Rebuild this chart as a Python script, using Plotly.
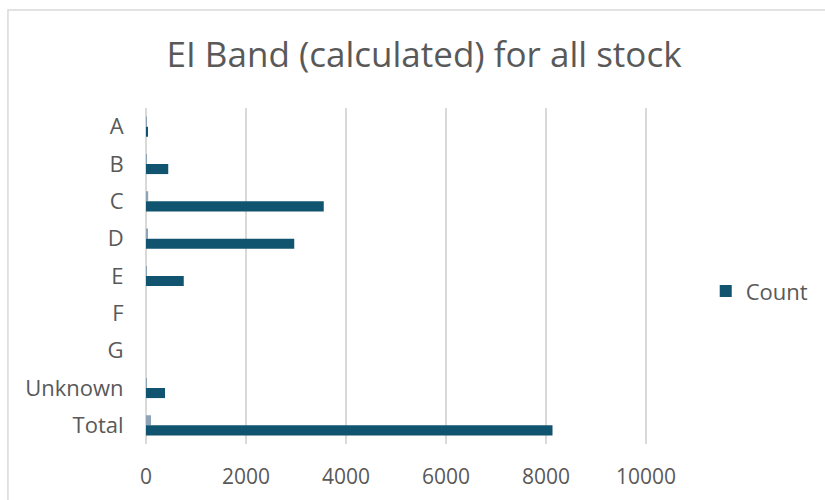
import plotly.graph_objects as go

categories = ["A", "B", "C", "D", "E", "F", "G", "Unknown", "Total"]
count_values = [30, 445, 3555, 2965, 755, 0, 0, 380, 8130]
percent_values = [0.4, 5.5, 43.7, 36.5, 9.3, 0, 0, 4.7, 100]
x_ticks = [0, 2000, 4000, 6000, 8000, 10000]
x_tick_text = ["0", "2000", "4000", "6000", "8000", "10000"]

fig = go.Figure()
fig.add_trace(go.Bar(
    y=categories, x=percent_values, orientation="h", name="Percent",
    marker=dict(color="#8fa3b6", line=dict(width=0)), showlegend=False,
))
fig.add_trace(go.Bar(
    y=categories, x=count_values, orientation="h", name="Count",
    marker=dict(color="#10546f", line=dict(width=0)),
))

grey = "#595959"
fnt = "Open Sans, Liberation Sans, Arial"
fig.update_layout(
    width=825, height=500,
    margin=dict(l=146, r=177, t=108, b=56, autoexpand=False),
    paper_bgcolor="white", plot_bgcolor="white",
    barmode="group", bargap=0.46, bargroupgap=0,
    title=dict(text="EI Band (calculated) for all stock", x=0.514, xanchor="center",
               y=0.89, yanchor="middle",
               font=dict(family=fnt, size=35, color=grey)),
    font=dict(family=fnt, size=21, color=grey),
    legend=dict(x=1.115, y=0.455, xanchor="left", yanchor="middle",
                font=dict(size=22, color=grey), itemwidth=30, bgcolor="rgba(0,0,0,0)"),
    xaxis=dict(range=[0, 10040], tickvals=x_ticks, ticktext=x_tick_text, automargin=False,
               showgrid=True, gridcolor="#d9d9d9", gridwidth=1.5,
               zeroline=True, zerolinecolor="#d9d9d9", zerolinewidth=1.5,
               showline=False, ticks="outside",
               ticklen=14, tickcolor="rgba(0,0,0,0)", tickfont=dict(size=21, color=grey)),
    yaxis=dict(autorange="reversed", showgrid=False, zeroline=False, showline=False,
               automargin=False,
               ticks="outside", ticklen=17, tickcolor="rgba(0,0,0,0)",
               tickfont=dict(size=22, color=grey)),
    shapes=[dict(type="rect", xref="paper", yref="paper",
                 x0=-0.275, x1=1.4, y0=-0.2, y1=1.2917,
                 line=dict(color="#d9d9d9", width=1.5), fillcolor="rgba(0,0,0,0)", layer="below")],
)

fig.write_html("out.html")
